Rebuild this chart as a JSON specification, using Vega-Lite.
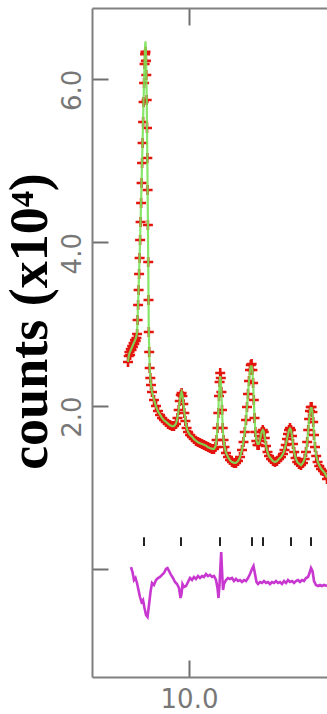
{
  "$schema": "https://vega.github.io/schema/vega-lite/v6.json",
  "autosize": "none",
  "width": 235,
  "height": 669,
  "padding": {"left": 92, "top": 8, "right": 0, "bottom": 37},
  "background": "#ffffff",
  "config": {"view": {"stroke": null}, "axis": {"grid": false}},
  "datasets": {
    "pattern": [
      {"x": 6.95, "obs": 2.534, "calc": 2.534},
      {"x": 6.985, "obs": 2.607, "calc": 2.60},
      {"x": 7.02, "obs": 2.656, "calc": 2.64},
      {"x": 7.055, "obs": 2.619, "calc": 2.66},
      {"x": 7.09, "obs": 2.693, "calc": 2.68},
      {"x": 7.125, "obs": 2.681, "calc": 2.70},
      {"x": 7.16, "obs": 2.729, "calc": 2.72},
      {"x": 7.195, "obs": 2.717, "calc": 2.74},
      {"x": 7.23, "obs": 2.766, "calc": 2.76},
      {"x": 7.265, "obs": 2.754, "calc": 2.78},
      {"x": 7.3, "obs": 2.803, "calc": 2.80},
      {"x": 7.335, "obs": 2.791, "calc": 2.82},
      {"x": 7.37, "obs": 2.827, "calc": 2.85},
      {"x": 7.405, "obs": 2.876, "calc": 2.90},
      {"x": 7.43, "obs": 3.048, "calc": 3.06},
      {"x": 7.455, "obs": 3.231, "calc": 3.25},
      {"x": 7.48, "obs": 3.415, "calc": 3.43},
      {"x": 7.505, "obs": 3.611, "calc": 3.63},
      {"x": 7.53, "obs": 3.807, "calc": 3.83},
      {"x": 7.555, "obs": 4.027, "calc": 4.05},
      {"x": 7.58, "obs": 4.247, "calc": 4.27},
      {"x": 7.605, "obs": 4.48, "calc": 4.50},
      {"x": 7.63, "obs": 4.725, "calc": 4.75},
      {"x": 7.655, "obs": 4.969, "calc": 5.00},
      {"x": 7.68, "obs": 5.214, "calc": 5.25},
      {"x": 7.705, "obs": 5.471, "calc": 5.50},
      {"x": 7.73, "obs": 5.716, "calc": 5.75},
      {"x": 7.755, "obs": 5.949, "calc": 5.98},
      {"x": 7.78, "obs": 6.181, "calc": 6.22},
      {"x": 7.805, "obs": 6.30, "calc": 6.40},
      {"x": 7.825, "obs": 6.33, "calc": 6.46},
      {"x": 7.845, "obs": 6.22, "calc": 6.33},
      {"x": 7.865, "obs": 6.047, "calc": 6.10},
      {"x": 7.885, "obs": 5.741, "calc": 5.78},
      {"x": 7.9, "obs": 5.398, "calc": 5.43},
      {"x": 7.915, "obs": 5.031, "calc": 5.06},
      {"x": 7.93, "obs": 4.639, "calc": 4.67},
      {"x": 7.945, "obs": 4.211, "calc": 4.24},
      {"x": 7.96, "obs": 3.758, "calc": 3.79},
      {"x": 7.975, "obs": 3.293, "calc": 3.32},
      {"x": 7.99, "obs": 2.901, "calc": 2.93},
      {"x": 8.01, "obs": 2.656, "calc": 2.68},
      {"x": 8.035, "obs": 2.46, "calc": 2.47},
      {"x": 8.065, "obs": 2.338, "calc": 2.34},
      {"x": 8.1, "obs": 2.252, "calc": 2.25},
      {"x": 8.15, "obs": 2.166, "calc": 2.17},
      {"x": 8.25, "obs": 2.069, "calc": 2.07},
      {"x": 8.35, "obs": 1.995, "calc": 1.99},
      {"x": 8.45, "obs": 1.934, "calc": 1.93},
      {"x": 8.55, "obs": 1.885, "calc": 1.89},
      {"x": 8.65, "obs": 1.848, "calc": 1.85},
      {"x": 8.75, "obs": 1.824, "calc": 1.82},
      {"x": 8.85, "obs": 1.799, "calc": 1.80},
      {"x": 8.95, "obs": 1.775, "calc": 1.78},
      {"x": 9.05, "obs": 1.763, "calc": 1.76},
      {"x": 9.15, "obs": 1.75, "calc": 1.75},
      {"x": 9.25, "obs": 1.75, "calc": 1.75},
      {"x": 9.35, "obs": 1.775, "calc": 1.78},
      {"x": 9.425, "obs": 1.848, "calc": 1.85},
      {"x": 9.485, "obs": 1.946, "calc": 1.95},
      {"x": 9.54, "obs": 2.056, "calc": 2.06},
      {"x": 9.59, "obs": 2.13, "calc": 2.14},
      {"x": 9.63, "obs": 2.154, "calc": 2.17},
      {"x": 9.67, "obs": 2.118, "calc": 2.13},
      {"x": 9.715, "obs": 2.02, "calc": 2.03},
      {"x": 9.765, "obs": 1.909, "calc": 1.92},
      {"x": 9.82, "obs": 1.811, "calc": 1.82},
      {"x": 9.88, "obs": 1.726, "calc": 1.73},
      {"x": 9.95, "obs": 1.677, "calc": 1.68},
      {"x": 10.05, "obs": 1.64, "calc": 1.64},
      {"x": 10.15, "obs": 1.616, "calc": 1.62},
      {"x": 10.25, "obs": 1.591, "calc": 1.59},
      {"x": 10.35, "obs": 1.567, "calc": 1.57},
      {"x": 10.45, "obs": 1.554, "calc": 1.55},
      {"x": 10.55, "obs": 1.542, "calc": 1.54},
      {"x": 10.65, "obs": 1.53, "calc": 1.53},
      {"x": 10.75, "obs": 1.518, "calc": 1.52},
      {"x": 10.85, "obs": 1.505, "calc": 1.51},
      {"x": 10.95, "obs": 1.493, "calc": 1.49},
      {"x": 11.05, "obs": 1.481, "calc": 1.48},
      {"x": 11.15, "obs": 1.469, "calc": 1.47},
      {"x": 11.25, "obs": 1.469, "calc": 1.47},
      {"x": 11.325, "obs": 1.493, "calc": 1.50},
      {"x": 11.38, "obs": 1.579, "calc": 1.59},
      {"x": 11.425, "obs": 1.726, "calc": 1.74},
      {"x": 11.465, "obs": 1.909, "calc": 1.93},
      {"x": 11.5, "obs": 2.118, "calc": 2.14},
      {"x": 11.53, "obs": 2.289, "calc": 2.29},
      {"x": 11.56, "obs": 2.399, "calc": 2.36},
      {"x": 11.59, "obs": 2.338, "calc": 2.31},
      {"x": 11.62, "obs": 2.166, "calc": 2.16},
      {"x": 11.65, "obs": 1.946, "calc": 1.95},
      {"x": 11.685, "obs": 1.726, "calc": 1.74},
      {"x": 11.725, "obs": 1.579, "calc": 1.59},
      {"x": 11.775, "obs": 1.493, "calc": 1.50},
      {"x": 11.85, "obs": 1.42, "calc": 1.42},
      {"x": 11.95, "obs": 1.371, "calc": 1.37},
      {"x": 12.05, "obs": 1.334, "calc": 1.33},
      {"x": 12.15, "obs": 1.31, "calc": 1.31},
      {"x": 12.25, "obs": 1.297, "calc": 1.30},
      {"x": 12.35, "obs": 1.297, "calc": 1.30},
      {"x": 12.45, "obs": 1.322, "calc": 1.32},
      {"x": 12.55, "obs": 1.371, "calc": 1.37},
      {"x": 12.65, "obs": 1.457, "calc": 1.46},
      {"x": 12.725, "obs": 1.554, "calc": 1.56},
      {"x": 12.79, "obs": 1.677, "calc": 1.68},
      {"x": 12.85, "obs": 1.824, "calc": 1.83},
      {"x": 12.9, "obs": 1.983, "calc": 1.99},
      {"x": 12.95, "obs": 2.142, "calc": 2.15},
      {"x": 13.0, "obs": 2.301, "calc": 2.30},
      {"x": 13.05, "obs": 2.436, "calc": 2.43},
      {"x": 13.09, "obs": 2.497, "calc": 2.48},
      {"x": 13.13, "obs": 2.509, "calc": 2.48},
      {"x": 13.17, "obs": 2.436, "calc": 2.43},
      {"x": 13.205, "obs": 2.277, "calc": 2.28},
      {"x": 13.24, "obs": 2.069, "calc": 2.08},
      {"x": 13.275, "obs": 1.848, "calc": 1.86},
      {"x": 13.315, "obs": 1.677, "calc": 1.69},
      {"x": 13.365, "obs": 1.567, "calc": 1.58},
      {"x": 13.425, "obs": 1.518, "calc": 1.53},
      {"x": 13.485, "obs": 1.518, "calc": 1.53},
      {"x": 13.54, "obs": 1.567, "calc": 1.57},
      {"x": 13.59, "obs": 1.628, "calc": 1.63},
      {"x": 13.64, "obs": 1.677, "calc": 1.68},
      {"x": 13.69, "obs": 1.701, "calc": 1.70},
      {"x": 13.74, "obs": 1.677, "calc": 1.68},
      {"x": 13.79, "obs": 1.603, "calc": 1.61},
      {"x": 13.85, "obs": 1.505, "calc": 1.51},
      {"x": 13.925, "obs": 1.432, "calc": 1.43},
      {"x": 14.0, "obs": 1.383, "calc": 1.38},
      {"x": 14.1, "obs": 1.346, "calc": 1.35},
      {"x": 14.2, "obs": 1.322, "calc": 1.32},
      {"x": 14.3, "obs": 1.31, "calc": 1.31},
      {"x": 14.4, "obs": 1.322, "calc": 1.32},
      {"x": 14.5, "obs": 1.346, "calc": 1.35},
      {"x": 14.6, "obs": 1.371, "calc": 1.37},
      {"x": 14.7, "obs": 1.408, "calc": 1.41},
      {"x": 14.775, "obs": 1.457, "calc": 1.46},
      {"x": 14.84, "obs": 1.518, "calc": 1.52},
      {"x": 14.9, "obs": 1.591, "calc": 1.59},
      {"x": 14.95, "obs": 1.652, "calc": 1.65},
      {"x": 15.0, "obs": 1.701, "calc": 1.70},
      {"x": 15.05, "obs": 1.726, "calc": 1.72},
      {"x": 15.1, "obs": 1.701, "calc": 1.70},
      {"x": 15.15, "obs": 1.628, "calc": 1.63},
      {"x": 15.2, "obs": 1.53, "calc": 1.53},
      {"x": 15.26, "obs": 1.432, "calc": 1.43},
      {"x": 15.33, "obs": 1.359, "calc": 1.36},
      {"x": 15.41, "obs": 1.31, "calc": 1.31},
      {"x": 15.5, "obs": 1.285, "calc": 1.29},
      {"x": 15.6, "obs": 1.273, "calc": 1.27},
      {"x": 15.7, "obs": 1.297, "calc": 1.30},
      {"x": 15.785, "obs": 1.346, "calc": 1.35},
      {"x": 15.85, "obs": 1.432, "calc": 1.43},
      {"x": 15.91, "obs": 1.554, "calc": 1.55},
      {"x": 15.96, "obs": 1.701, "calc": 1.70},
      {"x": 16.005, "obs": 1.836, "calc": 1.83},
      {"x": 16.05, "obs": 1.934, "calc": 1.92},
      {"x": 16.09, "obs": 1.983, "calc": 1.97},
      {"x": 16.13, "obs": 1.983, "calc": 1.97},
      {"x": 16.17, "obs": 1.922, "calc": 1.92},
      {"x": 16.21, "obs": 1.799, "calc": 1.80},
      {"x": 16.25, "obs": 1.64, "calc": 1.65},
      {"x": 16.3, "obs": 1.493, "calc": 1.50},
      {"x": 16.36, "obs": 1.383, "calc": 1.39},
      {"x": 16.43, "obs": 1.31, "calc": 1.32},
      {"x": 16.51, "obs": 1.261, "calc": 1.27},
      {"x": 16.6, "obs": 1.224, "calc": 1.23},
      {"x": 16.7, "obs": 1.2, "calc": 1.20},
      {"x": 16.8, "obs": 1.163, "calc": 1.17},
      {"x": 16.9, "obs": 1.102, "calc": 1.12}
    ],
    "diff": [
      {"x": 7.1, "d": 0.024},
      {"x": 7.175, "d": -0.037},
      {"x": 7.25, "d": -0.135},
      {"x": 7.325, "d": -0.11},
      {"x": 7.4, "d": -0.171},
      {"x": 7.475, "d": -0.257},
      {"x": 7.55, "d": -0.343},
      {"x": 7.625, "d": -0.404},
      {"x": 7.7, "d": -0.379},
      {"x": 7.775, "d": -0.478},
      {"x": 7.85, "d": -0.563},
      {"x": 7.925, "d": -0.587},
      {"x": 8.0, "d": -0.441},
      {"x": 8.075, "d": -0.282},
      {"x": 8.15, "d": -0.171},
      {"x": 8.25, "d": -0.196},
      {"x": 8.35, "d": -0.135},
      {"x": 8.45, "d": -0.11},
      {"x": 8.55, "d": -0.098},
      {"x": 8.65, "d": -0.073},
      {"x": 8.75, "d": -0.049},
      {"x": 8.85, "d": 0.0},
      {"x": 8.925, "d": 0.012},
      {"x": 9.0, "d": -0.024},
      {"x": 9.1, "d": -0.073},
      {"x": 9.2, "d": -0.11},
      {"x": 9.3, "d": -0.159},
      {"x": 9.4, "d": -0.184},
      {"x": 9.5, "d": -0.233},
      {"x": 9.575, "d": -0.355},
      {"x": 9.625, "d": -0.306},
      {"x": 9.675, "d": -0.184},
      {"x": 9.75, "d": -0.22},
      {"x": 9.85, "d": -0.208},
      {"x": 9.95, "d": -0.159},
      {"x": 10.05, "d": -0.11},
      {"x": 10.15, "d": -0.135},
      {"x": 10.25, "d": -0.098},
      {"x": 10.35, "d": -0.122},
      {"x": 10.45, "d": -0.086},
      {"x": 10.55, "d": -0.11},
      {"x": 10.65, "d": -0.086},
      {"x": 10.75, "d": -0.098},
      {"x": 10.85, "d": -0.061},
      {"x": 10.95, "d": -0.086},
      {"x": 11.05, "d": -0.073},
      {"x": 11.15, "d": -0.098},
      {"x": 11.25, "d": -0.086},
      {"x": 11.35, "d": -0.135},
      {"x": 11.425, "d": -0.233},
      {"x": 11.475, "d": -0.355},
      {"x": 11.525, "d": -0.196},
      {"x": 11.575, "d": 0.049},
      {"x": 11.61, "d": 0.208},
      {"x": 11.65, "d": -0.012},
      {"x": 11.7, "d": -0.257},
      {"x": 11.75, "d": -0.184},
      {"x": 11.85, "d": -0.135},
      {"x": 11.95, "d": -0.11},
      {"x": 12.05, "d": -0.122},
      {"x": 12.15, "d": -0.11},
      {"x": 12.25, "d": -0.147},
      {"x": 12.35, "d": -0.122},
      {"x": 12.45, "d": -0.147},
      {"x": 12.55, "d": -0.135},
      {"x": 12.65, "d": -0.159},
      {"x": 12.75, "d": -0.135},
      {"x": 12.85, "d": -0.147},
      {"x": 12.95, "d": -0.11},
      {"x": 13.05, "d": -0.061},
      {"x": 13.15, "d": 0.0},
      {"x": 13.225, "d": 0.037},
      {"x": 13.3, "d": -0.061},
      {"x": 13.375, "d": -0.159},
      {"x": 13.45, "d": -0.184},
      {"x": 13.55, "d": -0.159},
      {"x": 13.65, "d": -0.171},
      {"x": 13.75, "d": -0.147},
      {"x": 13.85, "d": -0.171},
      {"x": 13.95, "d": -0.159},
      {"x": 14.05, "d": -0.184},
      {"x": 14.15, "d": -0.159},
      {"x": 14.25, "d": -0.171},
      {"x": 14.35, "d": -0.147},
      {"x": 14.45, "d": -0.171},
      {"x": 14.55, "d": -0.159},
      {"x": 14.65, "d": -0.184},
      {"x": 14.75, "d": -0.147},
      {"x": 14.85, "d": -0.171},
      {"x": 14.95, "d": -0.135},
      {"x": 15.05, "d": -0.159},
      {"x": 15.15, "d": -0.147},
      {"x": 15.25, "d": -0.171},
      {"x": 15.35, "d": -0.147},
      {"x": 15.45, "d": -0.135},
      {"x": 15.55, "d": -0.159},
      {"x": 15.65, "d": -0.135},
      {"x": 15.75, "d": -0.147},
      {"x": 15.85, "d": -0.11},
      {"x": 15.95, "d": -0.098},
      {"x": 16.025, "d": -0.049},
      {"x": 16.1, "d": 0.012},
      {"x": 16.175, "d": -0.024},
      {"x": 16.25, "d": -0.147},
      {"x": 16.35, "d": -0.196},
      {"x": 16.45, "d": -0.208},
      {"x": 16.55, "d": -0.196},
      {"x": 16.65, "d": -0.208},
      {"x": 16.75, "d": -0.196},
      {"x": 16.9, "d": -0.208}
    ],
    "hkl": [
      {"x": 7.75}, {"x": 9.6}, {"x": 11.55}, {"x": 13.15}, {"x": 13.7}, {"x": 15.1}, {"x": 16.1}
    ]
  },
  "resolve": {"axis": {"x": "independent", "y": "independent"}},
  "layer": [
    {
      "data": {"name": "pattern"},
      "mark": {"type": "point", "shape": "M-1,0L1,0M0,-1L0,1", "filled": false, "color": "#e3150e", "strokeWidth": 2.6, "size": 100, "opacity": 1},
      "encoding": {
        "x": {"field": "x", "type": "quantitative", "scale": {"domain": [5.15, 16.9], "nice": false, "zero": false},
          "axis": {"orient": "bottom", "values": [10], "format": ".1f", "labelFont": "DejaVu Sans", "labelFontSize": 26, "labelColor": "#777777", "labelPadding": 26, "labelFlush": false, "tickSize": -17, "tickWidth": 2, "tickColor": "#707070", "domainColor": "#808080", "domainWidth": 2, "title": null, "grid": false}},
        "y": {"field": "obs", "type": "quantitative", "scale": {"domain": [-1.322, 6.867], "nice": false, "zero": false},
          "axis": {"orient": "left", "values": [0, 2, 4, 6], "labelExpr": "datum.value == 0 ? '' : format(datum.value, '.1f')", "labelAngle": -90, "labelAlign": "center", "labelBaseline": "middle", "labelFont": "DejaVu Sans", "labelFontSize": 26, "labelColor": "#777777", "labelPadding": 36, "labelOffset": 11, "labelFlush": false, "labelOverlap": false, "tickSize": -16, "tickWidth": 2, "tickColor": "#707070", "domainColor": "#808080", "domainWidth": 2, "grid": false,
            "title": "counts (x10⁴)", "titleFont": "Liberation Serif", "titleFontWeight": "bold", "titleFontSize": 54, "titleColor": "#000000", "titleAngle": -90, "titleBaseline": "alphabetic", "titleAlign": "center", "titleX": -46, "titleY": 313}}
      }
    },
    {
      "data": {"name": "pattern"},
      "mark": {"type": "line", "color": "#7ae257", "strokeWidth": 2.2, "opacity": 0.9},
      "encoding": {
        "x": {"field": "x", "type": "quantitative", "scale": {"domain": [5.15, 16.9], "nice": false, "zero": false},
          "axis": {"orient": "top", "values": [10], "labels": false, "tickSize": -17, "tickWidth": 2, "tickColor": "#707070", "domainColor": "#808080", "domainWidth": 2, "title": null, "grid": false}},
        "y": {"field": "calc", "type": "quantitative", "scale": {"domain": [-1.322, 6.867], "nice": false, "zero": false}, "axis": null}
      }
    },
    {
      "data": {"name": "hkl"},
      "mark": {"type": "rule", "color": "#222222", "strokeWidth": 2},
      "encoding": {
        "x": {"field": "x", "type": "quantitative", "scale": {"domain": [5.15, 16.9], "nice": false, "zero": false}, "axis": null},
        "y": {"datum": 0.39, "type": "quantitative", "scale": {"domain": [-1.322, 6.867], "nice": false, "zero": false}, "axis": null},
        "y2": {"datum": 0.28}
      }
    },
    {
      "data": {"name": "diff"},
      "mark": {"type": "line", "color": "#c837d0", "strokeWidth": 2.6},
      "encoding": {
        "x": {"field": "x", "type": "quantitative", "scale": {"domain": [5.15, 16.9], "nice": false, "zero": false}, "axis": null},
        "y": {"field": "d", "type": "quantitative", "scale": {"domain": [-1.322, 6.867], "nice": false, "zero": false}, "axis": null}
      }
    }
  ]
}
